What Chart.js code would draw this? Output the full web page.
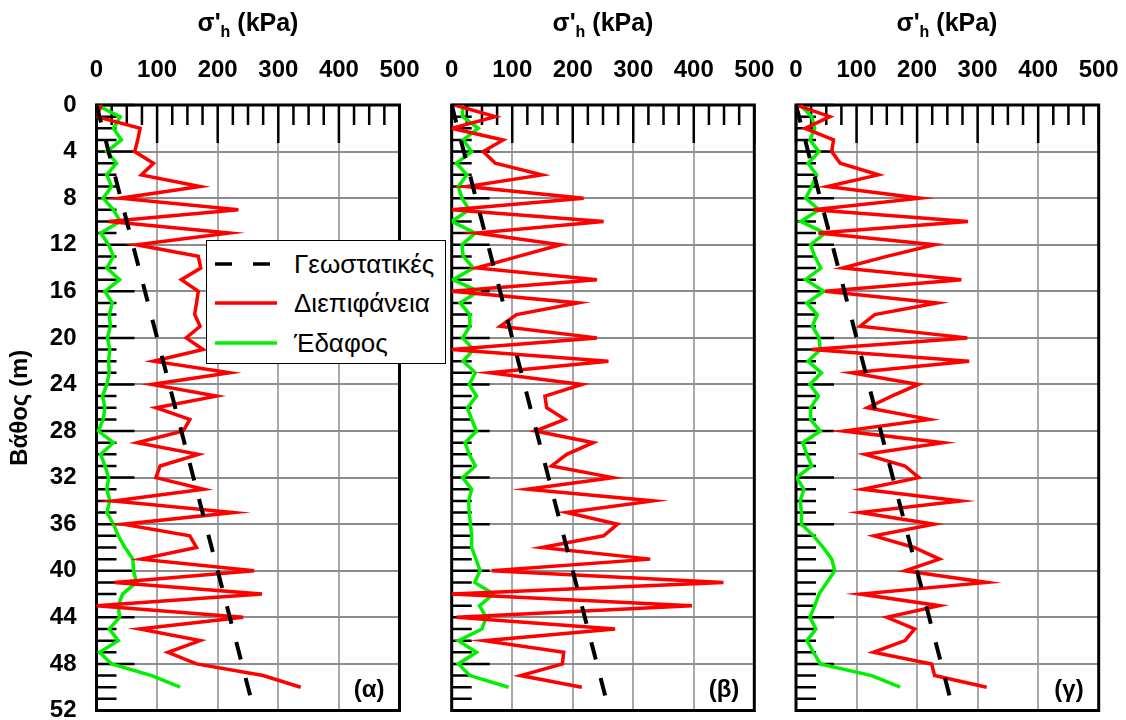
<!DOCTYPE html>
<html>
<head>
<meta charset="utf-8">
<script src="https://cdn.jsdelivr.net/npm/chart.js@4.4.1/dist/chart.umd.min.js"></script>
<style>
  body { margin: 0; background: #fff; font-family: Arial, "Liberation Sans", sans-serif; }
  #wrap { position: relative; width: 1126px; height: 720px; overflow: hidden; }
  #wrap canvas { position: absolute; left: 0; top: 0; }
  .ttl { position: absolute; top: 6px; width: 200px; margin-left: -100px; text-align: center;
         font-weight: bold; font-size: 25px; line-height: 32px; color: #000; }
  .ttl sub { font-size: 16px; vertical-align: -6px; }
  #legend { position: absolute; left: 206px; top: 240px; width: 238px; height: 122px;
            border: 1.5px solid #000; background: #fff; }
  .row { position: absolute; left: 8px; height: 30px; display: flex; align-items: center;
         font-size: 26px; color: #000; }
  .row svg { margin-right: 17px; }
</style>
</head>
<body>
<div id="wrap">
  <canvas id="cA" width="1126" height="720"></canvas>
  <canvas id="cB" width="1126" height="720"></canvas>
  <canvas id="cC" width="1126" height="720"></canvas>
  <div class="ttl" style="left:248px">σ'<sub>h</sub> (kPa)</div>
  <div class="ttl" style="left:603px">σ'<sub>h</sub> (kPa)</div>
  <div class="ttl" style="left:947px">σ'<sub>h</sub> (kPa)</div>
  <div id="legend">
    <div class="row" style="top:8px"><svg width="62" height="6"><line x1="0" y1="3" x2="62" y2="3" stroke="#000" stroke-width="3.5" stroke-dasharray="17 21"/></svg>Γεωστατικές</div>
    <div class="row" style="top:47px"><svg width="62" height="6"><line x1="0" y1="3" x2="62" y2="3" stroke="#ff0000" stroke-width="3.5"/></svg>Διεπιφάνεια</div>
    <div class="row" style="top:87px"><svg width="62" height="6"><line x1="0" y1="3" x2="62" y2="3" stroke="#00f000" stroke-width="3.5"/></svg>Έδαφος</div>
  </div>
</div>
<script>
// depth of each sample (m)
const depths = [0,1,2,3,4,5,6,7,8,9,10,11,12,13,14,15,16,17,18,19,20,21,22,23,24,25,
  26,27,28,29,30,31,32,33,34,35,36,37,38,39,40,41,42,43,44,45,46,47,48,49,50];

// (α) horizontal effective stress, kPa
const redA = [8,0,72,68,63,94,74,171,39,234,20,219,66,168,172,140,168,165,162,171,148,176,94,220,91,198,
  98,154,143,67,168,105,98,177,28,226,44,154,165,74,260,30,273,0,242,71,171,118,165,275,337];
const greenA = [0,39,28,41,17,33,17,25,11,28,39,7,20,28,17,38,14,26,21,23,18,22,20,21,17,10,
  14,11,3,28,7,14,20,17,22,17,28,36,47,60,61,66,43,36,38,21,36,5,25,91,138];

// (β)
const redB = [5,72,0,85,52,72,149,25,218,0,251,41,180,110,41,240,0,209,107,80,240,0,259,63,215,154,
  157,187,138,234,190,165,266,125,333,190,274,251,149,328,66,449,0,397,8,270,54,185,183,114,215];
const greenB = [18,18,44,19,33,8,25,11,17,29,0,39,17,19,36,2,44,14,30,30,18,36,19,39,29,41,
  26,33,41,22,29,39,18,33,28,29,31,33,33,40,47,38,69,46,57,50,11,41,11,30,94];

// (γ)
const redC = [0,56,15,62,59,73,136,52,205,29,284,37,229,150,77,273,48,233,130,106,283,26,286,92,202,158,
  118,220,79,243,114,180,203,110,272,106,228,129,195,237,180,315,106,237,150,196,180,128,224,229,315];
const greenC = [7,26,31,23,38,20,34,26,16,38,8,48,24,31,41,16,46,18,35,27,38,40,20,42,23,37,
  24,24,40,11,18,26,1,13,7,9,9,29,45,59,64,51,38,31,23,33,18,29,40,125,172];

// geostatic line
const geoDepth = [0, 51];
const geoStress = [0, 255];

const xTicks = [0,100,200,300,400,500];
const FONT = 'Arial, "Liberation Sans", sans-serif';

const pts = (xs, ys) => xs.map((v, i) => ({x: v, y: ys[i]}));

// inward ticks, frame and panel tag
const panelFrame = {
  id: 'panelFrame',
  beforeDatasetsDraw(chart, args, opts) {
    const {ctx, chartArea: a, scales: {x, y}} = chart;
    ctx.save();
    ctx.strokeStyle = '#000';
    ctx.lineWidth = 2.5;
    ctx.beginPath();
    for (let v = 0; v <= 500; v += 25) {
      const px = x.getPixelForValue(v);
      ctx.moveTo(px, a.top);
      ctx.lineTo(px, a.top + (v % 100 === 0 ? 38 : 20));
    }
    for (let d = 0; d <= 52; d++) {
      const py = y.getPixelForValue(d);
      ctx.moveTo(a.left, py);
      ctx.lineTo(a.left + (d % 4 === 0 ? 38 : 20), py);
    }
    ctx.stroke();
    ctx.lineWidth = 3;
    ctx.strokeRect(a.left, a.top, a.right - a.left, a.bottom - a.top);
    ctx.fillStyle = '#000';
    ctx.font = 'bold 24px ' + FONT;
    ctx.textAlign = 'right';
    ctx.textBaseline = 'middle';
    ctx.fillText(opts.tag, a.right - 15, a.bottom - 20);
    ctx.restore();
  }
};

function makePanel(id, red, green, tag, left, right, showY) {
  return new Chart(document.getElementById(id), {
    type: 'scatter',
    data: {
      datasets: [
        {label: 'Γεωστατικές', data: pts(geoStress, geoDepth), showLine: true, borderColor: '#000',
         borderWidth: 4, borderDash: [18, 19], pointRadius: 0},
        {label: 'Διεπιφάνεια', data: pts(red, depths), showLine: true, borderColor: '#ff0000',
         borderWidth: 3.5, pointRadius: 0},
        {label: 'Έδαφος', data: pts(green, depths), showLine: true, borderColor: '#00f000',
         borderWidth: 3.5, pointRadius: 0}
      ]
    },
    options: {
      responsive: false,
      animation: false,
      devicePixelRatio: 1,
      layout: {padding: {left: left, right: 1126 - right, top: 0, bottom: 9.5}},
      plugins: {legend: {display: false}, tooltip: {enabled: false}, panelFrame: {tag: tag}},
      scales: {
        x: {
          type: 'linear', position: 'top', min: 0, max: 500,
          afterBuildTicks: s => { s.ticks = xTicks.map(v => ({value: v})); },
          afterFit: s => { s.height = 105; s.paddingLeft = 0; s.paddingRight = 0; },
          border: {display: false},
          grid: {color: '#a8a8a8', lineWidth: 2, drawTicks: false},
          ticks: {padding: 20, color: '#000', font: {family: FONT, size: 24, weight: 'bold'}, maxRotation: 0}
        },
        y: {
          type: 'linear', reverse: true, min: 0, max: 52,
          afterFit: s => { s.width = showY ? 96.5 : 0; s.paddingTop = 0; s.paddingBottom = 0; },
          border: {display: false},
          grid: {color: '#8c8c8c', lineWidth: 2, drawTicks: false},
          ticks: {display: showY, stepSize: 4, padding: 20, color: '#000',
                  font: {family: FONT, size: 24, weight: 'bold'}},
          title: {display: showY, text: 'Βάθος (m)', color: '#000', padding: {top: 6, bottom: 0},
                  font: {family: FONT, size: 24, weight: 'bold'}}
        }
      }
    },
    plugins: [panelFrame]
  });
}

makePanel('cA', redA, greenA, '(α)', 0, 399.5, true);
makePanel('cB', redB, greenB, '(β)', 451.7, 754.3, false);
makePanel('cC', redC, greenC, '(γ)', 796, 1098.7, false);
</script>
</body>
</html>
